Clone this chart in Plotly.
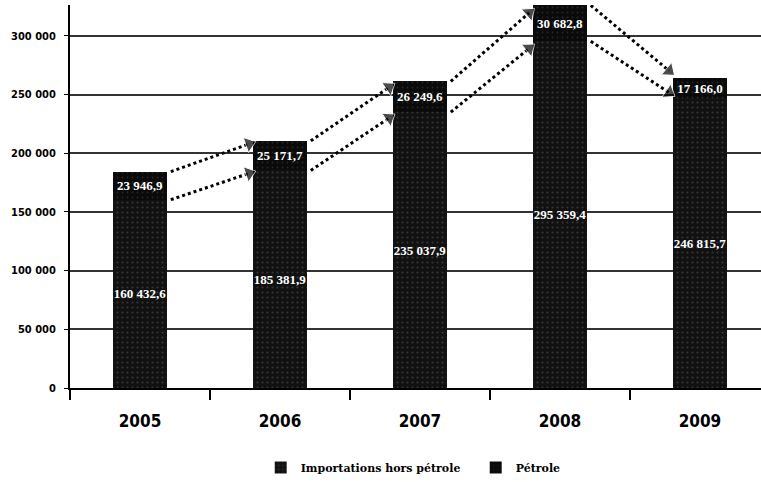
import plotly.graph_objects as go

years = ["2005", "2006", "2007", "2008", "2009"]
imports_hors_petrole = [160432.6, 185381.9, 235037.9, 295359.4, 246815.7]
petrole = [23946.9, 25171.7, 26249.6, 30682.8, 17166.0]
y_ticks = [0, 50000, 100000, 150000, 200000, 250000, 300000]

xpos = list(range(len(years)))
totals = [a + b for a, b in zip(imports_hors_petrole, petrole)]

fig = go.Figure()

label_font = dict(family="Liberation Serif", size=13, color="white", weight="bold")

fig.add_trace(go.Bar(
    x=xpos, y=imports_hors_petrole, name="Importations hors pétrole",
    width=0.39,
    marker=dict(color="#111111", line=dict(width=0),
                pattern=dict(shape=".", fgcolor="#5a5a5a", size=5, solidity=0.15)),
    texttemplate="%{y:,.1f}", textposition="inside", insidetextanchor="middle",
    textangle=0, constraintext="none", textfont=label_font,
))
fig.add_trace(go.Bar(
    x=xpos, y=petrole, name="Pétrole",
    width=0.39,
    marker=dict(color="#0a0a0a", line=dict(width=0),
                pattern=dict(shape=".", fgcolor="#444444", size=5, solidity=0.1)),
    texttemplate="%{y:,.1f}", textposition="inside", insidetextanchor="middle",
    textangle=0, constraintext="none", textfont=label_font,
))

# dotted arrows linking successive years (tops of both stacks)
for series in (totals, imports_hors_petrole):
    for i in range(len(years) - 1):
        x0, x1 = i + 0.22, i + 0.78
        y0, y1 = series[i], series[i + 1]
        yend = y0 + (y1 - y0) * 0.9
        fig.add_trace(go.Scatter(
            x=[x0, x1], y=[y0, yend], mode="lines+markers",
            line=dict(color="black", width=3, dash="dot"),
            marker=dict(symbol="triangle-up", size=[0, 14], color="black",
                        angleref="previous"),
            showlegend=False, hoverinfo="skip",
        ))

fig.update_layout(
    width=761, height=482,
    margin=dict(l=70, r=0, t=5, b=92),
    paper_bgcolor="white", plot_bgcolor="white",
    separators=", ",
    barmode="stack",
    showlegend=True,
    legend=dict(orientation="h", x=0.276, xanchor="left", y=-0.208, yanchor="middle",
                font=dict(family="DejaVu Serif", size=11, color="black", weight="bold"),
                itemwidth=30, tracegroupgap=0, entrywidthmode="pixels", entrywidth=170,
                traceorder="normal"),
    xaxis=dict(
        range=[-0.5, 4.436], tickmode="array", tickvals=xpos, ticktext=years,
        ticks="", showgrid=False, zeroline=False, automargin=False,
        showline=True, linecolor="black", linewidth=2, ticklabelstandoff=17,
        tickfont=dict(family="DejaVu Sans Condensed", size=17, color="black", weight="bold"),
        minor=dict(tickmode="array", tickvals=[-0.5, 0.5, 1.5, 2.5, 3.5],
                   ticks="outside", ticklen=10, tickwidth=2, tickcolor="black",
                   showgrid=False),
    ),
    yaxis=dict(
        range=[0, 326300], tickmode="array", tickvals=y_ticks,
        tickformat=",d", ticks="outside", ticklen=4, tickcolor="black",
        showgrid=True, gridcolor="#333333", gridwidth=1.5, automargin=False,
        zeroline=False, showline=True, linecolor="black", linewidth=2,
        ticklabelstandoff=6,
        tickfont=dict(family="DejaVu Sans Condensed", size=11, color="black", weight="bold"),
    ),
)

fig.write_html("out.html", config={"displayModeBar": False},
               post_script="document.body.style.margin='0';")
